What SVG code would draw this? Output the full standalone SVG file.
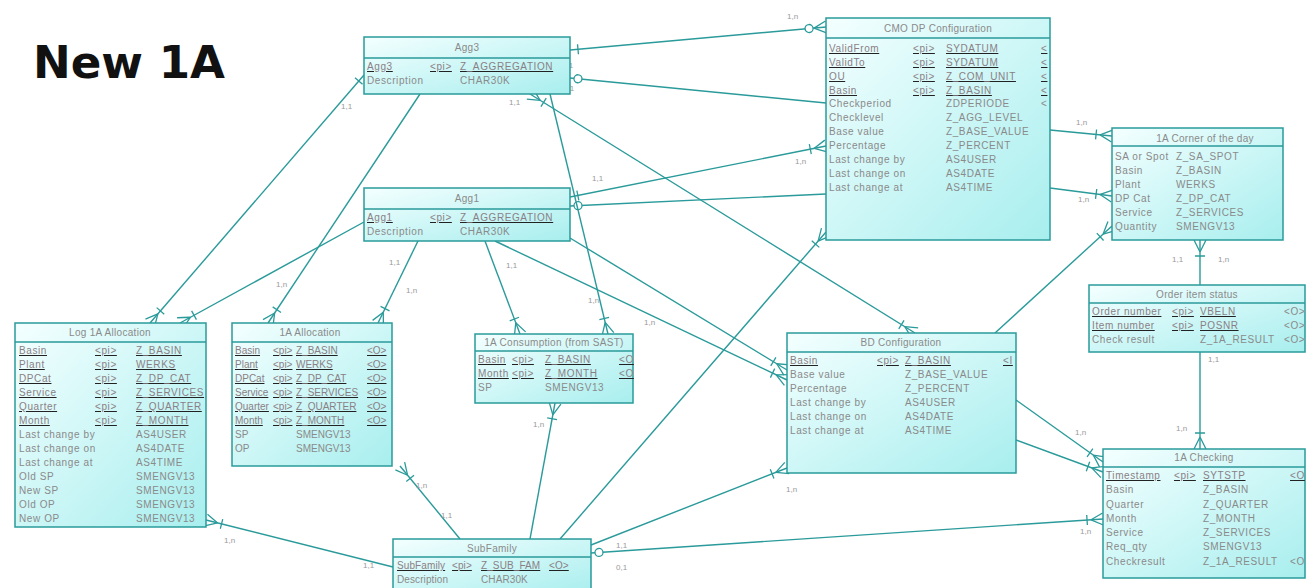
<svg xmlns="http://www.w3.org/2000/svg" width="1309" height="588" viewBox="0 0 1309 588">
<style>
.box{fill:url(#bg);stroke:#2a9a9a;stroke-width:1.5}
.sep{stroke:#2a9a9a;stroke-width:1.5}
.tt{font-family:"Liberation Sans",Arial,sans-serif;font-size:10px;fill:#8a8a8a;text-anchor:middle;letter-spacing:0.3px}
.f{font-family:"Liberation Sans",Arial,sans-serif;font-size:10px;fill:#8a8a8a;letter-spacing:0.6px}
.k{font-family:"Liberation Sans",Arial,sans-serif;font-size:10px;fill:#222;letter-spacing:0.6px;text-decoration:underline}
.k tspan{fill:#8a7f85}
#alloc1a .f,#alloc1a .k{letter-spacing:0}
#subfamily .f,#subfamily .k{letter-spacing:0.1px}
.c line,.c path{stroke:#2a9a9a;stroke-width:1.4;fill:none}
.lbl{font-family:"Liberation Sans",Arial,sans-serif;font-size:8px;fill:#9a9a9a}
.mk{fill:none;stroke:#2a9a9a;stroke-width:1.3}
</style>
<defs>
<linearGradient id="bg" x1="0" y1="0" x2="1" y2="1">
<stop offset="0" stop-color="#f4ffff"/>
<stop offset="1" stop-color="#a8eeee"/>
</linearGradient>
<marker id="crow" viewBox="-20 -8 22 16" markerWidth="22" markerHeight="16" refX="0" refY="0" orient="auto-start-reverse" markerUnits="userSpaceOnUse">
<path class="mk" d="M-12,0 L0,-6 M-12,0 L0,6 M-16,-5 L-16,5"/>
</marker>
<marker id="crowo" viewBox="-26 -8 28 16" markerWidth="28" markerHeight="16" refX="0" refY="0" orient="auto-start-reverse" markerUnits="userSpaceOnUse">
<path class="mk" d="M-12,0 L0,-6 M-12,0 L0,6"/>
<circle cx="-17" cy="0" r="4" fill="#fff" stroke="#2a9a9a" stroke-width="1.3"/>
</marker>
<marker id="bar" viewBox="-14 -8 16 16" markerWidth="16" markerHeight="16" refX="0" refY="0" orient="auto-start-reverse" markerUnits="userSpaceOnUse">
<path class="mk" d="M-8,-5 L-8,5"/>
</marker>
<marker id="circ" viewBox="-16 -8 18 16" markerWidth="18" markerHeight="16" refX="0" refY="0" orient="auto-start-reverse" markerUnits="userSpaceOnUse">
<circle cx="-8" cy="0" r="4" fill="#fff" stroke="#2a9a9a" stroke-width="1.3"/>
</marker>
</defs>
<rect width="1309" height="588" fill="#fff"/>
<text x="33" y="78" font-family="'DejaVu Sans',sans-serif" font-weight="bold" font-size="44" fill="#111" textLength="192" lengthAdjust="spacingAndGlyphs">New 1A</text>

<g id="connectors" class="c">
<line x1="570" y1="50" x2="826" y2="27" marker-start="url(#bar)" marker-end="url(#crowo)"/>
<line x1="570" y1="78" x2="826" y2="103" marker-start="url(#circ)"/>
<line x1="570" y1="197" x2="826" y2="146" marker-start="url(#bar)" marker-end="url(#crow)"/>
<line x1="570" y1="206" x2="826" y2="194" marker-start="url(#circ)"/>
<line x1="1050" y1="130" x2="1112" y2="136" marker-end="url(#crow)"/>
<line x1="1050" y1="188" x2="1112" y2="196" marker-end="url(#crow)"/>
<line x1="995" y1="333" x2="1112" y2="226" marker-end="url(#crow)"/>
<line x1="1200" y1="240" x2="1200" y2="285" marker-start="url(#crow)"/>
<line x1="1200" y1="352" x2="1200" y2="449" marker-end="url(#crow)"/>
<line x1="1016" y1="400" x2="1103" y2="462" marker-end="url(#crow)"/>
<line x1="1016" y1="440" x2="1103" y2="472" marker-end="url(#crow)"/>
<line x1="591" y1="553" x2="1103" y2="519" marker-start="url(#circ)" marker-end="url(#crow)"/>
<line x1="787" y1="468" x2="591" y2="545" marker-start="url(#crow)"/>
<line x1="364" y1="75" x2="150" y2="323" marker-start="url(#bar)" marker-end="url(#crow)"/>
<line x1="364" y1="222" x2="180" y2="323" marker-end="url(#crow)"/>
<line x1="420" y1="94" x2="268" y2="323" marker-end="url(#crow)"/>
<line x1="418" y1="241" x2="378" y2="323" marker-end="url(#crow)"/>
<line x1="550" y1="94" x2="608" y2="334" marker-end="url(#crow)"/>
<line x1="485" y1="241" x2="520" y2="334" marker-end="url(#crow)"/>
<line x1="530" y1="94" x2="915" y2="333" marker-start="url(#crow)" marker-end="url(#crow)"/>
<line x1="570" y1="238" x2="787" y2="370" marker-end="url(#crow)"/>
<line x1="495" y1="241" x2="787" y2="380" marker-end="url(#crow)"/>
<line x1="826" y1="232" x2="560" y2="539" marker-start="url(#crow)"/>
<line x1="206" y1="520" x2="393" y2="567" marker-start="url(#crow)"/>
<line x1="400" y1="466" x2="460" y2="539" marker-start="url(#crow)"/>
<line x1="555" y1="403" x2="530" y2="539" marker-start="url(#crow)"/>
</g>

<g id="labels">
<text class="lbl" x="562" y="68">1,1</text>
<text class="lbl" x="787" y="19">1,n</text>
<text class="lbl" x="563" y="91">0,1</text>
<text class="lbl" x="592" y="181">1,1</text>
<text class="lbl" x="795" y="164">1,n</text>
<text class="lbl" x="1076" y="125">1,n</text>
<text class="lbl" x="1078" y="202">1,n</text>
<text class="lbl" x="1172" y="262">1,1</text>
<text class="lbl" x="1218" y="262">1,n</text>
<text class="lbl" x="1208" y="362">1,1</text>
<text class="lbl" x="1176" y="431">1,n</text>
<text class="lbl" x="1075" y="435">1,n</text>
<text class="lbl" x="1080" y="534">1,n</text>
<text class="lbl" x="616" y="548">1,1</text>
<text class="lbl" x="616" y="570">0,1</text>
<text class="lbl" x="786" y="492">1,n</text>
<text class="lbl" x="341" y="109">1,1</text>
<text class="lbl" x="276" y="287">1,n</text>
<text class="lbl" x="389" y="265">1,1</text>
<text class="lbl" x="406" y="293">1,n</text>
<text class="lbl" x="588" y="303">1,n</text>
<text class="lbl" x="506" y="268">1,1</text>
<text class="lbl" x="644" y="325">1,n</text>
<text class="lbl" x="509" y="105">1,1</text>
<text class="lbl" x="224" y="543">1,n</text>
<text class="lbl" x="363" y="568">1,1</text>
<text class="lbl" x="416" y="488">1,n</text>
<text class="lbl" x="441" y="518">1,1</text>
<text class="lbl" x="533" y="427">1,n</text>
</g>

<g id="agg3">
<rect class="box" x="364" y="37" width="206" height="57"/>
<line class="sep" x1="364" y1="58" x2="570" y2="58"/>
<text class="tt" x="467" y="51">Agg3</text>
<text class="k" x="367" y="70"><tspan>Agg3</tspan></text><text class="k" x="430" y="70"><tspan>&lt;pi&gt;</tspan></text><text class="k" x="460" y="70"><tspan>Z_AGGREGATION</tspan></text>
<text class="f" x="367" y="84">Description</text><text class="f" x="460" y="84">CHAR30K</text>
</g>

<g id="agg1">
<rect class="box" x="364" y="188" width="206" height="53"/>
<line class="sep" x1="364" y1="209" x2="570" y2="209"/>
<text class="tt" x="467" y="202">Agg1</text>
<text class="k" x="367" y="221"><tspan>Agg1</tspan></text><text class="k" x="430" y="221"><tspan>&lt;pi&gt;</tspan></text><text class="k" x="460" y="221"><tspan>Z_AGGREGATION</tspan></text>
<text class="f" x="367" y="235">Description</text><text class="f" x="460" y="235">CHAR30K</text>
</g>

<g id="cmo">
<rect class="box" x="826" y="18" width="224" height="222"/>
<line class="sep" x1="826" y1="38" x2="1050" y2="38"/>
<text class="tt" x="938" y="32">CMO DP Configuration</text>
<text class="k" x="829" y="52"><tspan>ValidFrom</tspan></text><text class="k" x="913" y="52"><tspan>&lt;pi&gt;</tspan></text><text class="k" x="946" y="52"><tspan>SYDATUM</tspan></text><text class="k" x="1041" y="52"><tspan>&lt;</tspan></text>
<text class="k" x="829" y="66"><tspan>ValidTo</tspan></text><text class="k" x="913" y="66"><tspan>&lt;pi&gt;</tspan></text><text class="k" x="946" y="66"><tspan>SYDATUM</tspan></text><text class="k" x="1041" y="66"><tspan>&lt;</tspan></text>
<text class="k" x="829" y="80"><tspan>OU</tspan></text><text class="k" x="913" y="80"><tspan>&lt;pi&gt;</tspan></text><text class="k" x="946" y="80"><tspan>Z_COM_UNIT</tspan></text><text class="k" x="1041" y="80"><tspan>&lt;</tspan></text>
<text class="k" x="829" y="94"><tspan>Basin</tspan></text><text class="k" x="913" y="94"><tspan>&lt;pi&gt;</tspan></text><text class="k" x="946" y="94"><tspan>Z_BASIN</tspan></text><text class="k" x="1041" y="94"><tspan>&lt;</tspan></text>
<text class="f" x="829" y="107">Checkperiod</text><text class="f" x="946" y="107">ZDPERIODE</text><text class="f" x="1041" y="107">&lt;</text>
<text class="f" x="829" y="121">Checklevel</text><text class="f" x="946" y="121">Z_AGG_LEVEL</text>
<text class="f" x="829" y="135">Base value</text><text class="f" x="946" y="135">Z_BASE_VALUE</text>
<text class="f" x="829" y="149">Percentage</text><text class="f" x="946" y="149">Z_PERCENT</text>
<text class="f" x="829" y="163">Last change by</text><text class="f" x="946" y="163">AS4USER</text>
<text class="f" x="829" y="177">Last change on</text><text class="f" x="946" y="177">AS4DATE</text>
<text class="f" x="829" y="191">Last change at</text><text class="f" x="946" y="191">AS4TIME</text>
</g>

<g id="corner">
<rect class="box" x="1112" y="128" width="171" height="112"/>
<line class="sep" x1="1112" y1="146" x2="1283" y2="146"/>
<text class="tt" x="1205" y="142">1A Corner of the day</text>
<text class="f" x="1115" y="160">SA or Spot</text><text class="f" x="1176" y="160">Z_SA_SPOT</text>
<text class="f" x="1115" y="174">Basin</text><text class="f" x="1176" y="174">Z_BASIN</text>
<text class="f" x="1115" y="188">Plant</text><text class="f" x="1176" y="188">WERKS</text>
<text class="f" x="1115" y="202">DP Cat</text><text class="f" x="1176" y="202">Z_DP_CAT</text>
<text class="f" x="1115" y="216">Service</text><text class="f" x="1176" y="216">Z_SERVICES</text>
<text class="f" x="1115" y="230">Quantity</text><text class="f" x="1176" y="230">SMENGV13</text>
</g>

<g id="log1a">
<rect class="box" x="15" y="323" width="191" height="204"/>
<line class="sep" x1="15" y1="342" x2="206" y2="342"/>
<text class="tt" x="110" y="336">Log 1A Allocation</text>
<text class="k" x="19" y="354"><tspan>Basin</tspan></text><text class="k" x="95" y="354"><tspan>&lt;pi&gt;</tspan></text><text class="k" x="136" y="354"><tspan>Z_BASIN</tspan></text>
<text class="k" x="19" y="368"><tspan>Plant</tspan></text><text class="k" x="95" y="368"><tspan>&lt;pi&gt;</tspan></text><text class="k" x="136" y="368"><tspan>WERKS</tspan></text>
<text class="k" x="19" y="382"><tspan>DPCat</tspan></text><text class="k" x="95" y="382"><tspan>&lt;pi&gt;</tspan></text><text class="k" x="136" y="382"><tspan>Z_DP_CAT</tspan></text>
<text class="k" x="19" y="396"><tspan>Service</tspan></text><text class="k" x="95" y="396"><tspan>&lt;pi&gt;</tspan></text><text class="k" x="136" y="396"><tspan>Z_SERVICES</tspan></text>
<text class="k" x="19" y="410"><tspan>Quarter</tspan></text><text class="k" x="95" y="410"><tspan>&lt;pi&gt;</tspan></text><text class="k" x="136" y="410"><tspan>Z_QUARTER</tspan></text>
<text class="k" x="19" y="424"><tspan>Month</tspan></text><text class="k" x="95" y="424"><tspan>&lt;pi&gt;</tspan></text><text class="k" x="136" y="424"><tspan>Z_MONTH</tspan></text>
<text class="f" x="19" y="438">Last change by</text><text class="f" x="136" y="438">AS4USER</text>
<text class="f" x="19" y="452">Last change on</text><text class="f" x="136" y="452">AS4DATE</text>
<text class="f" x="19" y="466">Last change at</text><text class="f" x="136" y="466">AS4TIME</text>
<text class="f" x="19" y="480">Old SP</text><text class="f" x="136" y="480">SMENGV13</text>
<text class="f" x="19" y="494">New SP</text><text class="f" x="136" y="494">SMENGV13</text>
<text class="f" x="19" y="508">Old OP</text><text class="f" x="136" y="508">SMENGV13</text>
<text class="f" x="19" y="522">New OP</text><text class="f" x="136" y="522">SMENGV13</text>
</g>

<g id="alloc1a">
<rect class="box" x="232" y="323" width="160" height="143"/>
<line class="sep" x1="232" y1="342" x2="392" y2="342"/>
<text class="tt" x="310" y="336">1A Allocation</text>
<text class="k" x="235" y="354"><tspan>Basin</tspan></text><text class="k" x="273" y="354"><tspan>&lt;pi&gt;</tspan></text><text class="k" x="296" y="354"><tspan>Z_BASIN</tspan></text><text class="k" x="367" y="354"><tspan>&lt;O&gt;</tspan></text>
<text class="k" x="235" y="368"><tspan>Plant</tspan></text><text class="k" x="273" y="368"><tspan>&lt;pi&gt;</tspan></text><text class="k" x="296" y="368"><tspan>WERKS</tspan></text><text class="k" x="367" y="368"><tspan>&lt;O&gt;</tspan></text>
<text class="k" x="235" y="382"><tspan>DPCat</tspan></text><text class="k" x="273" y="382"><tspan>&lt;pi&gt;</tspan></text><text class="k" x="296" y="382"><tspan>Z_DP_CAT</tspan></text><text class="k" x="367" y="382"><tspan>&lt;O&gt;</tspan></text>
<text class="k" x="235" y="396"><tspan>Service</tspan></text><text class="k" x="273" y="396"><tspan>&lt;pi&gt;</tspan></text><text class="k" x="296" y="396"><tspan>Z_SERVICES</tspan></text><text class="k" x="367" y="396"><tspan>&lt;O&gt;</tspan></text>
<text class="k" x="235" y="410"><tspan>Quarter</tspan></text><text class="k" x="273" y="410"><tspan>&lt;pi&gt;</tspan></text><text class="k" x="296" y="410"><tspan>Z_QUARTER</tspan></text><text class="k" x="367" y="410"><tspan>&lt;O&gt;</tspan></text>
<text class="k" x="235" y="424"><tspan>Month</tspan></text><text class="k" x="273" y="424"><tspan>&lt;pi&gt;</tspan></text><text class="k" x="296" y="424"><tspan>Z_MONTH</tspan></text><text class="k" x="367" y="424"><tspan>&lt;O&gt;</tspan></text>
<text class="f" x="235" y="438">SP</text><text class="f" x="296" y="438">SMENGV13</text>
<text class="f" x="235" y="452">OP</text><text class="f" x="296" y="452">SMENGV13</text>
</g>

<g id="cons1a">
<rect class="box" x="475" y="334" width="158" height="69"/>
<line class="sep" x1="475" y1="351" x2="633" y2="351"/>
<text class="tt" x="554" y="346">1A Consumption (from SAST)</text>
<text class="k" x="478" y="363"><tspan>Basin</tspan></text><text class="k" x="512" y="363"><tspan>&lt;pi&gt;</tspan></text><text class="k" x="545" y="363"><tspan>Z_BASIN</tspan></text><text class="k" x="619" y="363"><tspan>&lt;O</tspan></text>
<text class="k" x="478" y="377"><tspan>Month</tspan></text><text class="k" x="512" y="377"><tspan>&lt;pi&gt;</tspan></text><text class="k" x="545" y="377"><tspan>Z_MONTH</tspan></text><text class="k" x="619" y="377"><tspan>&lt;O</tspan></text>
<text class="f" x="478" y="391">SP</text><text class="f" x="545" y="391">SMENGV13</text>
</g>

<g id="bd">
<rect class="box" x="787" y="333" width="229" height="140"/>
<line class="sep" x1="787" y1="352" x2="1016" y2="352"/>
<text class="tt" x="901" y="346">BD Configuration</text>
<text class="k" x="790" y="364"><tspan>Basin</tspan></text><text class="k" x="877" y="364"><tspan>&lt;pi&gt;</tspan></text><text class="k" x="905" y="364"><tspan>Z_BASIN</tspan></text><text class="k" x="1003" y="364"><tspan>&lt;I</tspan></text>
<text class="f" x="790" y="378">Base value</text><text class="f" x="905" y="378">Z_BASE_VALUE</text>
<text class="f" x="790" y="392">Percentage</text><text class="f" x="905" y="392">Z_PERCENT</text>
<text class="f" x="790" y="406">Last change by</text><text class="f" x="905" y="406">AS4USER</text>
<text class="f" x="790" y="420">Last change on</text><text class="f" x="905" y="420">AS4DATE</text>
<text class="f" x="790" y="434">Last change at</text><text class="f" x="905" y="434">AS4TIME</text>
</g>

<g id="order">
<rect class="box" x="1089" y="285" width="216" height="67"/>
<line class="sep" x1="1089" y1="303" x2="1305" y2="303"/>
<text class="tt" x="1197" y="298">Order item status</text>
<text class="k" x="1092" y="315"><tspan>Order number</tspan></text><text class="k" x="1172" y="315"><tspan>&lt;pi&gt;</tspan></text><text class="k" x="1200" y="315"><tspan>VBELN</tspan></text><text class="f" x="1284" y="315">&lt;O&gt;</text>
<text class="k" x="1092" y="329"><tspan>Item number</tspan></text><text class="k" x="1172" y="329"><tspan>&lt;pi&gt;</tspan></text><text class="k" x="1200" y="329"><tspan>POSNR</tspan></text><text class="f" x="1284" y="329">&lt;O&gt;</text>
<text class="f" x="1092" y="343">Check result</text><text class="f" x="1200" y="343">Z_1A_RESULT</text><text class="f" x="1284" y="343">&lt;O&gt;</text>
</g>

<g id="checking">
<rect class="box" x="1103" y="449" width="202" height="129"/>
<line class="sep" x1="1103" y1="467" x2="1305" y2="467"/>
<text class="tt" x="1204" y="461">1A Checking</text>
<text class="k" x="1106" y="479"><tspan>Timestamp</tspan></text><text class="k" x="1174" y="479"><tspan>&lt;pi&gt;</tspan></text><text class="k" x="1203" y="479"><tspan>SYTSTP</tspan></text><text class="k" x="1290" y="479"><tspan>&lt;O</tspan></text>
<text class="f" x="1106" y="493">Basin</text><text class="f" x="1203" y="493">Z_BASIN</text>
<text class="f" x="1106" y="508">Quarter</text><text class="f" x="1203" y="508">Z_QUARTER</text>
<text class="f" x="1106" y="522">Month</text><text class="f" x="1203" y="522">Z_MONTH</text>
<text class="f" x="1106" y="536">Service</text><text class="f" x="1203" y="536">Z_SERVICES</text>
<text class="f" x="1106" y="550">Req_qty</text><text class="f" x="1203" y="550">SMENGV13</text>
<text class="f" x="1106" y="565">Checkresult</text><text class="f" x="1203" y="565">Z_1A_RESULT</text><text class="f" x="1290" y="565">&lt;O</text>
</g>

<g id="subfamily">
<rect class="box" x="393" y="539" width="198" height="55"/>
<line class="sep" x1="393" y1="557" x2="591" y2="557"/>
<text class="tt" x="492" y="552">SubFamily</text>
<text class="k" x="397" y="569"><tspan>SubFamily</tspan></text><text class="k" x="452" y="569"><tspan>&lt;pi&gt;</tspan></text><text class="k" x="481" y="569"><tspan>Z_SUB_FAM</tspan></text><text class="k" x="549" y="569"><tspan>&lt;O&gt;</tspan></text>
<text class="f" x="397" y="583">Description</text><text class="f" x="481" y="583">CHAR30K</text>
</g>
</svg>
